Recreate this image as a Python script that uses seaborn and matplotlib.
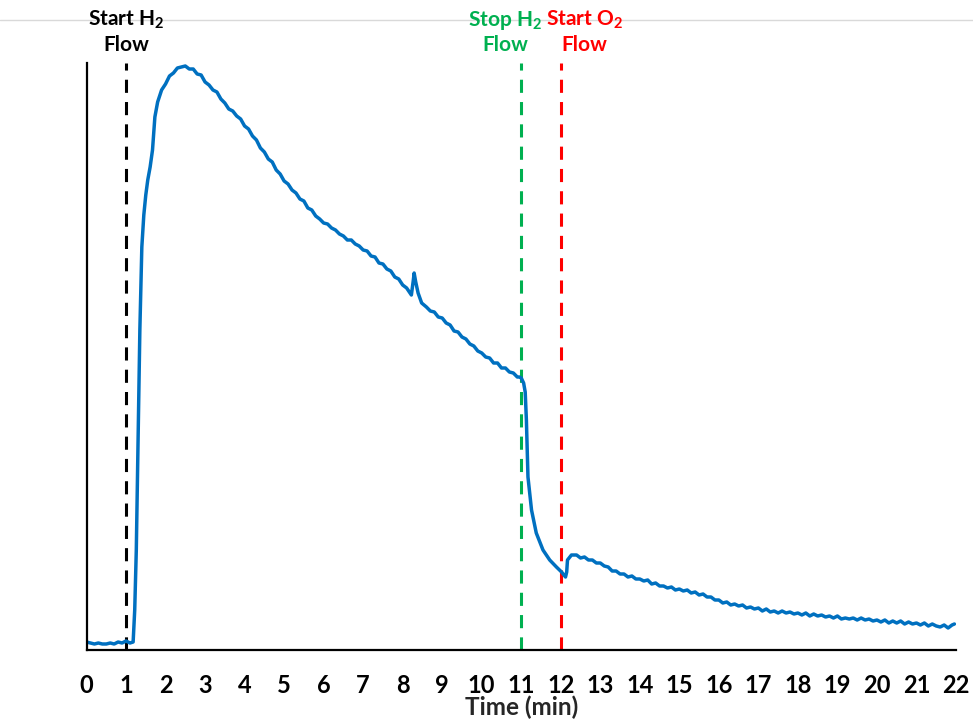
import matplotlib
matplotlib.use("Agg")
import matplotlib.pyplot as plt
from matplotlib.lines import Line2D
import seaborn as sns
import pandas as pd

# Detector signal (arbitrary units) versus time (min)
time_min = [
    0.00, 0.10, 0.20, 0.30, 0.40, 0.50, 0.60, 0.70, 0.80, 0.90, 1.00, 1.10, 1.18,
    1.22, 1.26, 1.30, 1.35, 1.40, 1.45, 1.50, 1.55, 1.61, 1.67, 1.73,
    1.8, 1.9, 2.0, 2.1, 2.2, 2.3, 2.4, 2.5, 2.6, 2.7, 2.8, 2.9,
    3.0, 3.1, 3.2, 3.3, 3.4, 3.5, 3.6, 3.7, 3.8, 3.9,
    4.0, 4.1, 4.2, 4.3, 4.4, 4.5, 4.6, 4.7, 4.8, 4.9,
    5.0, 5.1, 5.2, 5.3, 5.4, 5.5, 5.6, 5.7, 5.8, 5.9,
    6.0, 6.1, 6.2, 6.3, 6.4, 6.5, 6.6, 6.7, 6.8, 6.9,
    7.0, 7.1, 7.2, 7.3, 7.4, 7.5, 7.6, 7.7, 7.8, 7.9,
    8.0, 8.1, 8.15, 8.22, 8.27, 8.29, 8.33, 8.39, 8.48,
    8.6, 8.7, 8.8, 8.9, 9.0, 9.1, 9.2, 9.3, 9.4, 9.5, 9.6, 9.7, 9.8, 9.9,
    10.0, 10.1, 10.2, 10.3, 10.4, 10.5, 10.6, 10.7, 10.8, 10.9, 10.95,
    11.00, 11.06, 11.10, 11.13, 11.17, 11.26, 11.38, 11.55, 11.72, 11.89,
    12.02, 12.12, 12.15, 12.17, 12.27, 12.4, 12.5, 12.6, 12.7, 12.8, 12.9,
    13.0, 13.1, 13.2, 13.3, 13.4, 13.5, 13.6, 13.7, 13.8, 13.9,
    14.0, 14.1, 14.2, 14.3, 14.4, 14.5, 14.6, 14.7, 14.8, 14.9,
    15.0, 15.1, 15.2, 15.3, 15.4, 15.5, 15.6, 15.7, 15.8, 15.9,
    16.0, 16.1, 16.2, 16.3, 16.4, 16.5, 16.6, 16.7, 16.8, 16.9,
    17.0, 17.1, 17.2, 17.3, 17.4, 17.5, 17.6, 17.7, 17.8, 17.9,
    18.0, 18.1, 18.2, 18.3, 18.4, 18.5, 18.6, 18.7, 18.8, 18.9,
    19.0, 19.1, 19.2, 19.3, 19.4, 19.5, 19.6, 19.7, 19.8, 19.9,
    20.0, 20.1, 20.2, 20.3, 20.4, 20.5, 20.6, 20.7, 20.8, 20.9,
    21.0, 21.1, 21.2, 21.3, 21.4, 21.5, 21.6, 21.7, 21.8, 21.9, 21.96,
]
signal = [
    8, 7, 6, 7, 6, 6, 7, 6, 8, 7, 9, 7, 8,
    40, 100, 200, 320, 403, 435, 455, 470, 483, 500, 533,
    548, 560, 566, 574, 577, 582, 583, 584, 581, 581, 576, 575,
    568, 565, 560, 558, 551, 547, 541, 539, 534, 531,
    524, 521, 514, 510, 502, 498, 491, 488, 480, 476,
    469, 466, 460, 457, 451, 449, 442, 440, 434, 431,
    427, 426, 422, 420, 416, 414, 410, 410, 406, 404,
    400, 399, 394, 393, 387, 386, 381, 379, 373, 371,
    365, 362, 359, 355, 370, 377, 368, 357, 347,
    343, 339, 338, 333, 332, 327, 325, 319, 318, 313, 311, 306, 304, 299,
    297, 293, 292, 287, 287, 282, 282, 278, 277, 273, 273,
    272, 267, 258, 230, 173, 140, 117, 100, 90, 83,
    78, 73, 78, 90, 95, 95, 92, 93, 90, 90, 87,
    87, 84, 83, 79, 79, 76, 76, 73, 74, 71,
    71, 69, 70, 66, 67, 64, 64, 62, 63, 60,
    61, 59, 60, 57, 58, 55, 56, 53, 53, 50,
    50, 47, 48, 45, 46, 44, 45, 42, 43, 41,
    42, 39, 41, 38, 39, 37, 39, 37, 38, 36,
    37, 35, 37, 34, 36, 34, 35, 33, 34, 32,
    34, 31, 32, 31, 32, 30, 32, 30, 31, 29,
    30, 28, 30, 27, 29, 27, 29, 26, 28, 26,
    27, 25, 27, 24, 26, 24, 23, 25, 22, 25, 26,
]

# Gas switching events
event_times = [1, 11, 12]
event_colors = ["#000000", "#00B050", "#FF0000"]
event_titles = ["Start H$_2$", "Stop H$_2$", "Start O$_2$"]
event_label_x = [1.0, 10.6, 12.6]

tick_values = list(range(0, 23))

sns.set_theme(style="white")
plt.rcParams["font.family"] = ["Lato", "DejaVu Sans"]
plt.rcParams["mathtext.fontset"] = "custom"
plt.rcParams["mathtext.rm"] = "Lato:bold"
plt.rcParams["mathtext.default"] = "rm"

fig = plt.figure(figsize=(9.73, 7.21), dpi=100)
ax = fig.add_axes([86.5 / 973, 1 - 650 / 721, (956 - 86.5) / 973, (650 - 63) / 721])

df = pd.DataFrame({"time": time_min, "signal": signal})
sns.lineplot(data=df, x="time", y="signal", ax=ax, color="#0070C0",
             linewidth=2.5, estimator=None, sort=False)

for t, c in zip(event_times, event_colors):
    ax.axvline(t, color=c, linewidth=2.2, dashes=(4.3, 3.0), zorder=1)

ax.set_xlim(0, 22)
ax.set_ylim(0, 587)
ax.set_xticks(tick_values)
ax.set_xticklabels([str(v) for v in tick_values], fontsize=17, fontweight="bold")
ax.set_yticks([])
ax.tick_params(axis="x", length=0, pad=17, colors="black")
ax.set_xlabel("Time (min)", fontsize=17.5, fontweight="bold", labelpad=-1)
ax.set_ylabel("")

for side in ["top", "right"]:
    ax.spines[side].set_visible(False)
for side in ["left", "bottom"]:
    ax.spines[side].set_color("black")
    ax.spines[side].set_linewidth(1.6)

xt = ax.get_xaxis_transform()
for t, c, title in zip(event_label_x, event_colors, event_titles):
    ax.text(t, (650 - 26) / 587, title, transform=xt, color=c,
            fontsize=15, fontweight="bold", ha="center", va="baseline")
    ax.text(t, (650 - 51) / 587, "Flow", transform=xt, color=c,
            fontsize=15, fontweight="bold", ha="center", va="baseline")

# Thin frame rule along the top, drawn beneath the annotations
fig.add_artist(Line2D([0, 1], [1 - 20 / 721, 1 - 20 / 721],
                      transform=fig.transFigure, color="#D9D9D9",
                      linewidth=1, zorder=-1))

fig.savefig("out.png", dpi=100)
